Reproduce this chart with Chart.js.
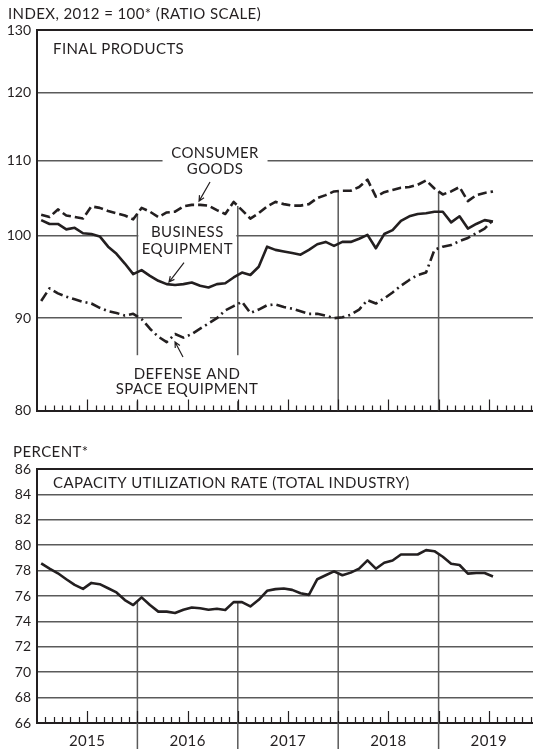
<!DOCTYPE html>
<html>
<head>
<meta charset="utf-8">
<script src="https://cdn.jsdelivr.net/npm/chart.js@4.4.0/dist/chart.umd.min.js"></script>
<style>
  html, body { margin: 0; padding: 0; background: #fff; width: 533px; height: 749px; overflow: hidden; }
  canvas { position: absolute; left: 0; }
  #chart-final { top: 0; }
  #chart-cu { top: 430px; }
</style>
</head>
<body>
<canvas id="chart-final" width="539" height="430"></canvas>
<canvas id="chart-cu" width="539" height="319"></canvas>
<script>
(function () {
  "use strict";

  // monthly values, Jan 2015 .. Jul 2019
  const YEARS = ["2015", "2016", "2017", "2018", "2019"];

  const CONSUMER_GOODS = [
    102.7, 102.4, 103.4, 102.6, 102.4, 102.2, 103.8, 103.6, 103.2, 102.9, 102.6, 102.1,
    103.6, 103.1, 102.4, 103.0, 103.1, 103.8, 104.0, 104.0, 103.9, 103.3, 102.8, 104.4,
    103.3, 102.2, 102.9, 103.8, 104.4, 104.1, 103.9, 103.9, 104.1, 104.9, 105.3, 105.8,
    105.9, 105.9, 106.4, 107.4, 105.1, 105.7, 106.0, 106.3, 106.4, 106.7, 107.3, 106.2,
    105.4, 105.8, 106.4, 104.5, 105.3, 105.6, 105.8
  ];
  const BUSINESS_EQUIPMENT = [
    102.0, 101.5, 101.5, 100.8, 101.0, 100.3, 100.2, 99.9, 98.6, 97.7, 96.5, 95.2,
    95.7, 95.0, 94.4, 94.0, 93.9, 94.0, 94.2, 93.8, 93.6, 94.0, 94.1, 94.8,
    95.4, 95.1, 96.1, 98.6, 98.2, 98.0, 97.8, 97.6, 98.2, 98.9, 99.2, 98.7,
    99.2, 99.2, 99.6, 100.1, 98.4, 100.2, 100.7, 101.9, 102.5, 102.8, 102.9, 103.1,
    103.1, 101.7, 102.5, 100.9, 101.5, 102.0, 101.8
  ];
  const DEFENSE_SPACE = [
    92.0, 93.5, 92.9, 92.5, 92.2, 91.9, 91.7, 91.2, 90.8, 90.6, 90.3, 90.5,
    89.9, 88.8, 87.9, 87.3, 88.2, 87.8, 88.2, 88.8, 89.4, 90.0, 90.9, 91.4,
    91.9, 90.6, 91.0, 91.5, 91.6, 91.3, 91.1, 90.8, 90.5, 90.5, 90.3, 90.0,
    90.1, 90.4, 91.0, 92.1, 91.7, 92.3, 93.0, 93.8, 94.5, 95.1, 95.4, 98.2,
    98.6, 98.8, 99.3, 99.7, 100.3, 100.9, 102.0
  ];
  const CAPACITY_UTILIZATION = [
    78.57, 78.15, 77.79, 77.32, 76.88, 76.56, 77.03, 76.93, 76.61, 76.28, 75.68, 75.29,
    75.89, 75.29, 74.77, 74.77, 74.66, 74.92, 75.10, 75.03, 74.92, 75.00, 74.90, 75.52,
    75.52, 75.18, 75.70, 76.41, 76.54, 76.59, 76.48, 76.22, 76.09, 77.32, 77.63, 77.94,
    77.63, 77.84, 78.15, 78.80, 78.15, 78.62, 78.80, 79.27, 79.27, 79.27, 79.61, 79.53,
    79.09, 78.54, 78.44, 77.76, 77.81, 77.81, 77.53
  ];

  const INDEX_TICKS = [80, 90, 100, 110, 120, 130];
  const PERCENT_TICKS = [66, 68, 70, 72, 74, 76, 78, 80, 82, 84, 86];

  const INK = "#231f20";
  const GRID = "#5a5a5a";
  const FONT = "Lato, 'DejaVu Sans', sans-serif";
  const TEXT_FONT = "15px " + FONT;
  const MONTHS_SHOWN = 60;

  // label blocks for the top panel: anchor in (month, index) units
  const TOP_NOTES = [
    { lines: ["CONSUMER", "GOODS"], at: [21.28, 110.06], lh: 16, box: [105, 38, 0.5],
      arrow: [[20.68, 107.08], [19.37, 104.5]] },
    { lines: ["BUSINESS", "EQUIPMENT"], at: [17.97, 99.5], lh: 17, box: [98, 42, 0],
      arrow: [[17.57, 96.6], [15.78, 94.25]] },
    { lines: ["DEFENSE AND", "SPACE EQUIPMENT"], at: [17.93, 83.1], lh: 15, box: [143, 46, -2.5],
      arrow: [[17.45, 85.65], [16.5, 87.31]] },
    { lines: [], at: [19.0, 90], box: [28, 6, 0] },
  ];

  function toPoints(values) {
    return values.map((v, i) => ({ x: i + 0.5, y: v }));
  }

  // pixel height of a series at month m (between its monthly points)
  function lineY(scaleY, values, m) {
    const f = m - 0.5;
    const i0 = Math.max(0, Math.min(values.length - 2, Math.floor(f)));
    const t = f - i0;
    const a = scaleY.getPixelForValue(values[i0]);
    const b = scaleY.getPixelForValue(values[i0 + 1]);
    return a + (b - a) * t;
  }

  function setText(ctx) {
    ctx.fillStyle = INK;
    ctx.font = TEXT_FONT;
    ctx.letterSpacing = "0.4px";
    ctx.textBaseline = "alphabetic";
  }

  function monthTicks(ctx, x, bottom, small, tall) {
    ctx.strokeStyle = INK;
    ctx.lineWidth = 1.2;
    for (let m = 1; m < MONTHS_SHOWN; m++) {
      const len = m % 6 === 0 ? tall : small;
      const px = Math.round(x.getPixelForValue(m)) + 0.5;
      ctx.beginPath();
      ctx.moveTo(px, bottom);
      ctx.lineTo(px, bottom - len);
      ctx.stroke();
    }
  }

  function arrow(ctx, x1, y1, x2, y2) {
    const a = Math.atan2(y2 - y1, x2 - x1);
    ctx.beginPath();
    ctx.moveTo(x1, y1);
    ctx.lineTo(x2, y2);
    ctx.moveTo(x2 - 6 * Math.cos(a - 0.45), y2 - 6 * Math.sin(a - 0.45));
    ctx.lineTo(x2, y2);
    ctx.lineTo(x2 - 6 * Math.cos(a + 0.45), y2 - 6 * Math.sin(a + 0.45));
    ctx.stroke();
  }

  const finalDecor = {
    id: "finalDecor",
    beforeDatasetsDraw(chart) {
      const { ctx, chartArea, scales: { x, y } } = chart;
      ctx.save();
      ctx.strokeStyle = GRID;
      ctx.lineWidth = 1.5;
      for (let k = 1; k < YEARS.length; k++) {
        const m = k * 12;
        const px = x.getPixelForValue(m);
        ctx.beginPath();
        ctx.moveTo(px, lineY(y, CONSUMER_GOODS, m));
        ctx.lineTo(px, chartArea.bottom);
        ctx.stroke();
      }
      ctx.fillStyle = "#fff";
      TOP_NOTES.forEach((n) => {
        const cx = x.getPixelForValue(n.at[0]);
        const cy = y.getPixelForValue(n.at[1]) + n.box[2];
        ctx.fillRect(cx - n.box[0] / 2, cy - n.box[1] / 2, n.box[0], n.box[1]);
      });
      ctx.restore();
    },
    afterDatasetsDraw(chart) {
      const { ctx, chartArea, scales: { x, y } } = chart;
      ctx.save();
      monthTicks(ctx, x, chartArea.bottom, 5, 11);
      setText(ctx);
      ctx.textAlign = "left";
      ctx.fillText("INDEX, 2012 = 100* (RATIO SCALE)", 8, 19);
      ctx.fillText("FINAL PRODUCTS", 53, chartArea.top + 24);
      ctx.textAlign = "center";
      ctx.lineWidth = 1.2;
      ctx.strokeStyle = INK;
      TOP_NOTES.forEach((n) => {
        const cx = x.getPixelForValue(n.at[0]);
        const cy = y.getPixelForValue(n.at[1]);
        n.lines.forEach((t, i) => {
          const base = cy - (n.lines.length - 1) * n.lh / 2 + i * n.lh + 5.5;
          ctx.fillText(t, cx, base);
        });
        if (n.arrow) {
          arrow(ctx,
            x.getPixelForValue(n.arrow[0][0]), y.getPixelForValue(n.arrow[0][1]),
            x.getPixelForValue(n.arrow[1][0]), y.getPixelForValue(n.arrow[1][1]));
        }
      });
      ctx.restore();
    },
  };

  const cuDecor = {
    id: "cuDecor",
    beforeDatasetsDraw(chart) {
      const { ctx, scales: { x, y } } = chart;
      ctx.save();
      ctx.strokeStyle = GRID;
      ctx.lineWidth = 1.5;
      for (let k = 1; k < YEARS.length; k++) {
        const m = k * 12;
        const px = x.getPixelForValue(m);
        ctx.beginPath();
        ctx.moveTo(px, lineY(y, CAPACITY_UTILIZATION, m));
        ctx.lineTo(px, chart.height);
        ctx.stroke();
      }
      ctx.restore();
    },
    afterDatasetsDraw(chart) {
      const { ctx, chartArea, scales: { x } } = chart;
      ctx.save();
      monthTicks(ctx, x, chartArea.bottom, 6, 12);
      setText(ctx);
      ctx.textAlign = "left";
      ctx.fillText("PERCENT*", 13, 27);
      ctx.fillText("CAPACITY UTILIZATION RATE (TOTAL INDUSTRY)", 53, chartArea.top + 19);
      ctx.textAlign = "center";
      YEARS.forEach((yr, k) => {
        ctx.fillText(yr, x.getPixelForValue(k * 12 + 6), chartArea.bottom + 23);
      });
      ctx.restore();
    },
  };

  function yAxis(extra) {
    return Object.assign({
      afterFit: (s) => { s.width = 37; },
      ticks: { color: INK, font: { family: FONT, size: 14 }, padding: 6, autoSkip: false },
      grid: {
        drawTicks: false,
        color: (c) => (c.index === 0 || c.index === c.chart.scales.y.ticks.length - 1 ? INK : GRID),
        lineWidth: (c) => (c.index === 0 || c.index === c.chart.scales.y.ticks.length - 1 ? 2 : 1.5),
      },
      border: { display: true, color: INK, width: 2 },
    }, extra);
  }

  const lineDefaults = {
    borderColor: INK,
    borderWidth: 2.6,
    pointRadius: 0,
    tension: 0,
    borderJoinStyle: "round",
    fill: false,
  };

  new Chart(document.getElementById("chart-final"), {
    type: "line",
    data: {
      datasets: [
        Object.assign({ label: "Consumer goods", data: toPoints(CONSUMER_GOODS), borderDash: [9, 4] }, lineDefaults),
        Object.assign({ label: "Business equipment", data: toPoints(BUSINESS_EQUIPMENT) }, lineDefaults),
        Object.assign({ label: "Defense and space equipment", data: toPoints(DEFENSE_SPACE), borderDash: [10, 4, 2, 4] }, lineDefaults),
      ],
    },
    options: {
      responsive: false,
      animation: false,
      layout: { padding: { top: 30, bottom: 19.5, left: 0, right: 0 } },
      plugins: { legend: { display: false }, tooltip: { enabled: false } },
      scales: {
        x: { type: "linear", min: 0, max: MONTHS_SHOWN, display: false },
        y: yAxis({
          type: "logarithmic",
          min: 80,
          max: 130,
          afterBuildTicks: (s) => { s.ticks = INDEX_TICKS.map((v) => ({ value: v })); },
          ticks: { color: INK, font: { family: FONT, size: 14 }, padding: 6, autoSkip: false, callback: (v) => String(v) },
        }),
      },
    },
    plugins: [finalDecor],
  });

  new Chart(document.getElementById("chart-cu"), {
    type: "line",
    data: {
      datasets: [
        Object.assign({ label: "Capacity utilization", data: toPoints(CAPACITY_UTILIZATION) }, lineDefaults),
      ],
    },
    options: {
      responsive: false,
      animation: false,
      layout: { padding: { top: 39, bottom: 26, left: 0, right: 0 } },
      plugins: { legend: { display: false }, tooltip: { enabled: false } },
      scales: {
        x: { type: "linear", min: 0, max: MONTHS_SHOWN, display: false },
        y: yAxis({
          type: "linear",
          min: 66,
          max: 86,
          afterBuildTicks: (s) => { s.ticks = PERCENT_TICKS.map((v) => ({ value: v })); },
        }),
      },
    },
    plugins: [cuDecor],
  });
})();
</script>
</body>
</html>
